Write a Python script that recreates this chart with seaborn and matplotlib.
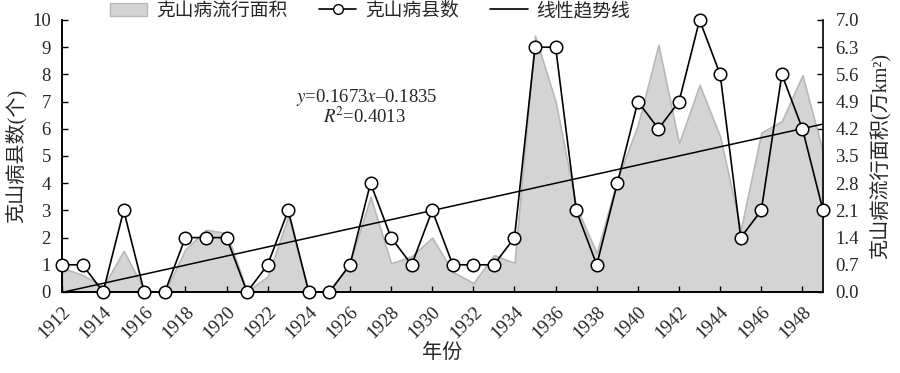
import numpy as np
import seaborn as sns
import matplotlib.pyplot as plt
from matplotlib.patches import Patch
from matplotlib.lines import Line2D
from matplotlib.ticker import FormatStrFormatter

# 数据: 年份, 克山病县数(个), 克山病流行面积(万km2)
years = list(range(1912, 1950))
county_counts = [1, 1, 0, 3, 0, 0, 2, 2, 2, 0,
                 1, 3, 0, 0, 1, 4, 2, 1, 3, 1,
                 1, 1, 2, 9, 9, 3, 1, 4, 7, 6,
                 7, 10, 8, 2, 3, 8, 6, 3]
epidemic_area = [0.62, 0.44, 0.14, 1.06, 0.05, 0.0, 1.1, 1.6, 1.52, 0.02,
                 0.4, 1.95, 0.0, 0.0, 0.75, 2.45, 0.74, 0.92, 1.4, 0.52,
                 0.23, 0.95, 0.75, 6.6, 4.9, 2.2, 1.0, 2.9, 4.3, 6.36,
                 3.83, 5.33, 4.0, 1.6, 4.1, 4.4, 5.58, 3.6]
equation_text = r'$y$=0.1673$x$–0.1835'
r2_text = r'$R$$^2$=0.4013'

sns.set_style('ticks')
plt.rcParams['font.family'] = ['Liberation Serif', 'Noto Sans CJK SC']
plt.rcParams['mathtext.fontset'] = 'stix'
plt.rcParams['axes.unicode_minus'] = False

fig = plt.figure(figsize=(9, 3.73), dpi=100)
ax = fig.add_axes([62 / 900, 81 / 373, 761 / 900, 272 / 373])
ax2 = ax.twinx()

# 面积图放在右轴, 折线放在左轴上层
area_grey = '#d4d4d4'
ax2.fill_between(years, epidemic_area, 0, color=area_grey, edgecolor='#b8b8b8', linewidth=1.2)
ax.set_zorder(ax2.get_zorder() + 1)
ax.patch.set_visible(False)

sns.regplot(x=years, y=county_counts, ax=ax, scatter=False, ci=None, truncate=False,
            line_kws=dict(color='black', linewidth=1.1))
sns.lineplot(x=years, y=county_counts, ax=ax, color='black', linewidth=1.2,
             marker='o', markersize=9, markerfacecolor='white', markeredgecolor='black',
             markeredgewidth=1.1, clip_on=False, zorder=5)

ax.set_xlim(1912, 1949)
ax.set_ylim(0, 10)
ax2.set_ylim(0, 7)
ax.set_xticks(years[::2])
ax.set_xticklabels([str(y) for y in years[::2]], rotation=45, ha='right', rotation_mode='anchor')
ax.set_yticks(range(0, 11))
ax2.set_yticks(np.arange(0, 7.01, 0.7))
ax2.yaxis.set_major_formatter(FormatStrFormatter('%.1f'))

for a in (ax, ax2):
    a.tick_params(direction='in', length=4, width=1, labelsize=13.5, color='black')
    for side in ('left', 'right', 'bottom'):
        a.spines[side].set_color('black')
        a.spines[side].set_linewidth(1.2)
    a.spines['top'].set_visible(False)
ax.spines['right'].set_visible(False)
ax.tick_params(axis='y', pad=8)
ax.tick_params(axis='x', pad=8)
ax2.tick_params(axis='y', pad=9)

ax.set_xlabel('年份', fontsize=14.5, labelpad=2)
ax.set_ylabel('克山病县数(个)', fontsize=14.5, labelpad=4)
ax2.set_ylabel('克山病流行面积(万km²)', fontsize=14.5, labelpad=8)

fig.text(367 / 900, 1 - 97 / 373, equation_text, fontsize=13.5, ha='center', va='center')
fig.text(364 / 900, 1 - 117 / 373, r2_text, fontsize=13.5, ha='center', va='center')

handles = [Patch(facecolor=area_grey, edgecolor='#b8b8b8'),
           Line2D([], [], color='black', linewidth=1.2, marker='o', markersize=7,
                  markerfacecolor='white', markeredgecolor='black'),
           Line2D([], [], color='black', linewidth=1.2)]
labels = ['克山病流行面积', '克山病县数', '线性趋势线']
fig.legend(handles, labels, loc='center', bbox_to_anchor=(370 / 900, 1 - 11 / 373), ncol=3,
           frameon=False, fontsize=13.5, handlelength=2.0, handletextpad=0.45,
           columnspacing=1.7, borderaxespad=0)

fig.savefig('out.png', dpi=100, facecolor='white')
